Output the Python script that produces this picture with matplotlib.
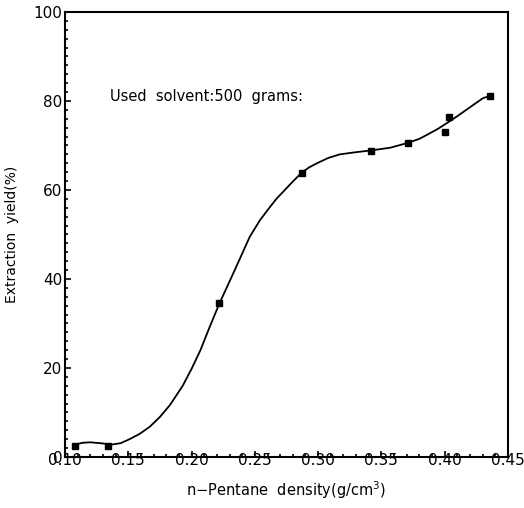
import numpy as np
import matplotlib.pyplot as plt
from matplotlib.ticker import MultipleLocator, FormatStrFormatter

# measured points
density = [0.108, 0.134, 0.222, 0.287, 0.342, 0.371, 0.400, 0.403, 0.436]
yield_pct = [2.4, 2.5, 34.5, 63.9, 68.8, 70.6, 73.1, 76.3, 81.2]

# smooth fitted curve
curve_x = [0.108, 0.114, 0.120, 0.128, 0.137, 0.144, 0.151, 0.159, 0.167, 0.175,
           0.183, 0.193, 0.200, 0.207, 0.214, 0.222, 0.233, 0.246, 0.254, 0.262,
           0.267, 0.272, 0.280, 0.287, 0.293, 0.299, 0.308, 0.317, 0.330, 0.342,
           0.357, 0.371, 0.380, 0.388, 0.395, 0.4015, 0.410, 0.417, 0.424, 0.430,
           0.436]
curve_y = [2.8, 3.2, 3.3, 3.1, 2.8, 3.1, 4.0, 5.2, 6.8, 9.0,
           11.7, 16.0, 19.8, 24.0, 29.0, 34.5, 41.3, 49.5, 53.2, 56.2,
           58.0, 59.5, 61.9, 63.9, 65.1, 66.0, 67.2, 68.0, 68.5, 68.9,
           69.5, 70.6, 71.5, 72.7, 73.8, 75.0, 76.6, 78.0, 79.4, 80.6,
           81.2]

fig = plt.figure(figsize=(5.24, 5.08), dpi=100)
ax = fig.add_axes([0.124, 0.1004, 0.8455, 0.876])

ax.plot(curve_x, curve_y, color='black', lw=1.3)
ax.plot(density, yield_pct, 's', color='black', markersize=5)

ax.set_xlim(0.10, 0.45)
ax.set_ylim(0, 100)
ax.xaxis.set_major_locator(MultipleLocator(0.05))
ax.xaxis.set_minor_locator(MultipleLocator(0.01))
ax.xaxis.set_major_formatter(FormatStrFormatter('%.2f'))
ax.yaxis.set_major_locator(MultipleLocator(20))
ax.yaxis.set_minor_locator(MultipleLocator(2))

ax.tick_params(which='both', direction='in', top=False, right=False, width=1.2)
ax.tick_params(which='major', length=4.5, labelsize=11)
ax.tick_params(axis='x', which='major', pad=-3)
ax.tick_params(axis='y', which='major', pad=2)
ax.tick_params(which='minor', length=2.5)
for s in ax.spines.values():
    s.set_linewidth(1.5)

ax.set_xlabel('n\u2212Pentane  density(g/cm$^3$)', fontsize=10.5, labelpad=8)
ax.set_ylabel('Extraction  yield(%)', fontsize=10, labelpad=10)
ax.text(0.1355, 80.9, 'Used  solvent:500  grams:', fontsize=10.5, va='center')

fig.savefig('out.png', dpi=100)
